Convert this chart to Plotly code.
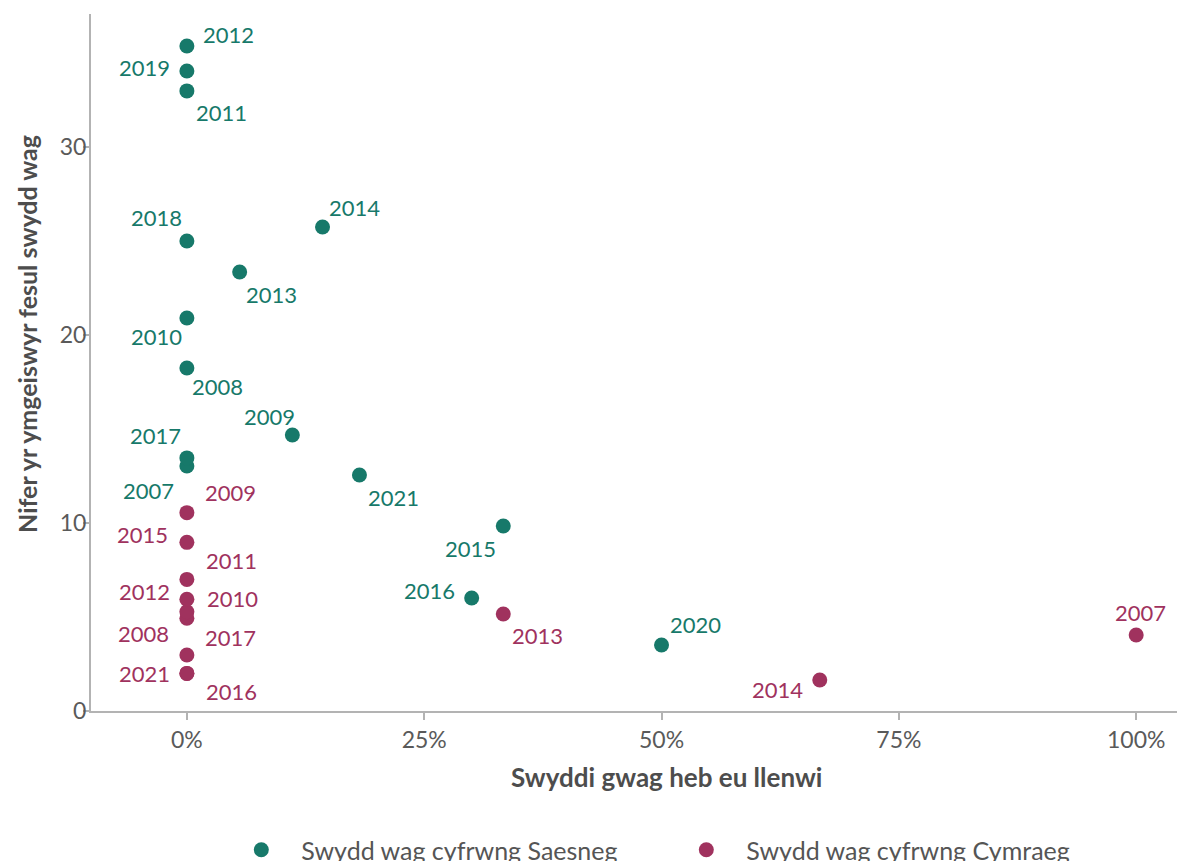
import plotly.graph_objects as go

# Swydd wag cyfrwng Saesneg (English-medium vacancies)
en_years = [2007, 2008, 2009, 2010, 2011, 2012, 2013, 2014, 2015, 2016, 2017, 2018, 2019, 2020, 2021]
en_unfilled = [0, 0, 0.1111, 0, 0, 0, 0.0556, 0.1429, 0.3333, 0.30, 0, 0, 0, 0.5, 0.1818]
en_applicants = [13.03, 18.24, 14.68, 20.9, 32.98, 35.37, 23.35, 25.74, 9.84, 6.01, 13.46, 25.0, 34.04, 3.51, 12.55]

# Swydd wag cyfrwng Cymraeg (Welsh-medium vacancies)
cy_years = [2007, 2008, 2009, 2010, 2011, 2012, 2013, 2014, 2015, 2016, 2017, 2021]
cy_unfilled = [1.0, 0, 0, 0, 0, 0, 0.3333, 0.6667, 0, 0, 0, 0]
cy_applicants = [4.04, 4.93, 10.55, 5.28, 7.0, 5.94, 5.16, 1.65, 8.97, 2.0, 2.98, 2.0]

x_ticks = [0, 0.25, 0.5, 0.75, 1.0]
y_ticks = [0, 10, 20, 30]

GREEN = "#17796a"
RED = "#a0325e"
FONT = "Source Sans Pro, Lato, sans-serif"

# label placement (xanchor, xshift, yshift) per year, mimicking the repelled labels
en_label_pos = {
    2007: ("right", -11, -24), 2008: ("left", 3, -18), 2009: ("right", 5, 18),
    2010: ("right", -3, -18), 2011: ("left", 7, -22), 2012: ("left", 14, 11),
    2013: ("left", 4, -23), 2014: ("left", 4, 20), 2015: ("right", -5, -23),
    2016: ("right", -15, 8), 2017: ("right", -4, 22), 2018: ("right", -3, 23),
    2019: ("right", -15, 3), 2020: ("left", 6, 21), 2021: ("left", 7, -22),
}
cy_label_pos = {
    2007: ("center", 4, 23), 2008: ("right", -16, -15), 2009: ("left", 16, 20),
    2010: ("left", 18, 13), 2011: ("left", 17, 19), 2012: ("right", -15, 8),
    2013: ("left", 7, -22), 2014: ("right", -15, -10), 2015: ("right", -17, 8),
    2016: ("left", 17, -18), 2017: ("left", 16, 17), 2021: ("right", -15, 0),
}

fig = go.Figure()
fig.add_trace(go.Scatter(
    x=en_unfilled, y=en_applicants, mode="markers", name="Swydd wag cyfrwng Saesneg",
    marker=dict(color=GREEN, size=15), cliponaxis=False,
))
fig.add_trace(go.Scatter(
    x=cy_unfilled, y=cy_applicants, mode="markers", name="Swydd wag cyfrwng Cymraeg",
    marker=dict(color=RED, size=15), cliponaxis=False,
))

annotations = []
for years, xs, ys, pos, color in [
    (en_years, en_unfilled, en_applicants, en_label_pos, GREEN),
    (cy_years, cy_unfilled, cy_applicants, cy_label_pos, RED),
]:
    for yr, xv, yv in zip(years, xs, ys):
        anchor, dx, dy = pos[yr]
        annotations.append(dict(
            x=xv, y=yv, text=str(yr), showarrow=False, xanchor=anchor, yanchor="middle",
            xshift=dx, yshift=dy, font=dict(color=color, size=22, family=FONT),
        ))

# axis titles as paper annotations (the original sits a little off-centre)
annotations.append(dict(
    xref="paper", yref="paper", x=0.530, y=-0.0947, xanchor="center", yanchor="middle",
    text="<b>Swyddi gwag heb eu llenwi</b>", showarrow=False,
    font=dict(size=26, color="#4d4d4d", family=FONT),
))
annotations.append(dict(
    xref="paper", yref="paper", x=-0.0589, y=0.541, xanchor="center", yanchor="middle",
    text="<b>Nifer yr ymgeiswyr fesul swydd wag</b>", showarrow=False, textangle=-90,
    font=dict(size=25, color="#4d4d4d", family=FONT),
))

fig.update_layout(
    width=1177, height=873,
    margin=dict(l=91, r=0, t=14, b=162),
    paper_bgcolor="white", plot_bgcolor="white",
    font=dict(family=FONT, size=23, color="#5a5a5a"),
    annotations=annotations,
    showlegend=True,
    legend=dict(
        orientation="h", x=0.12, xanchor="left", y=-162 / 697, yanchor="bottom",
        itemwidth=70, entrywidth=360, font=dict(size=25, color="#555555"),
    ),
)
fig.update_xaxes(
    range=[-0.101, 1.043], tickvals=x_ticks, tickformat=".0%", automargin=False,
    showgrid=False, zeroline=False, showline=True, linecolor="#b3b3b3", linewidth=2,
    ticks="outside", ticklen=7, tickcolor="#b3b3b3", tickwidth=2,
)
fig.update_yaxes(
    range=[0, 37.07], tickvals=y_ticks, automargin=False, ticklabelstandoff=-8,
    showgrid=False, zeroline=False, showline=True, linecolor="#b3b3b3", linewidth=2,
    ticks="outside", ticklen=6, tickcolor="#b3b3b3", tickwidth=2,
)

fig.write_html(
    "out.html",
    config={"displayModeBar": False},
    post_script="document.body.style.margin='0'; document.body.style.overflow='hidden';",
)
